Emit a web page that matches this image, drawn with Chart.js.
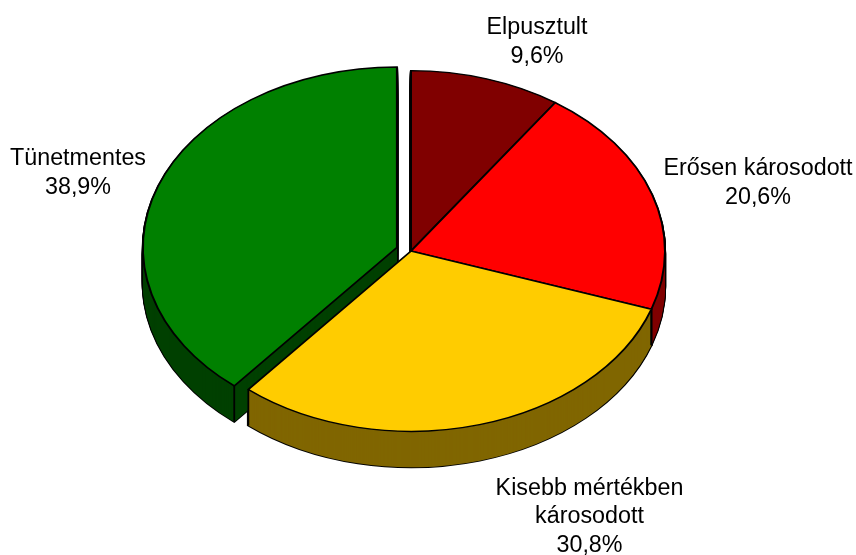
<!DOCTYPE html>
<html>
<head>
<meta charset="utf-8">
<script src="https://cdn.jsdelivr.net/npm/chart.js@4/dist/chart.umd.js"></script>
<style>
  html, body { margin: 0; padding: 0; background: #fff; }
  #wrap { width: 856px; height: 555px; position: relative; }
</style>
</head>
<body>
<div id="wrap"><canvas id="chart" width="856" height="555"></canvas></div>
<script>
const categories = ["Elpusztult", "Erősen károsodott", "Kisebb mértékben károsodott", "Tünetmentes"];
const values = [9.6, 20.6, 30.8, 38.9];
const colors = ["#800000", "#ff0000", "#ffcc00", "#008000"];
const sideColors = ["#400000", "#800000", "#806600", "#004000"];
const explode = [0, 0, 0, 15];

// wrapped label lines, the percent is added from values
const labelLines = [["Elpusztult"], ["Erősen károsodott"], ["Kisebb mértékben", "károsodott"], ["Tünetmentes"]];
const labelAnchors = [[537, 28], [758, 169], [589.5, 488.5], [78, 159]];
const lineHeight = 28.5;

const centerY = 251;
const squash = 0.71;
const depth = 36;

function withOptions(arc, over, fn) {
  const saved = arc.options;
  arc.options = Object.assign({}, saved, over);
  fn();
  arc.options = saved;
}

function shift(arc, i) {
  const mid = (arc.startAngle + arc.endAngle) / 2;
  return [Math.cos(mid) * explode[i], Math.sin(mid) * explode[i]];
}

// Chart.js has no 3D pie, so squash the arcs and stack copies for the wall
const pie3d = {
  id: "pie3d",
  beforeDatasetDraw(chart, args) {
    const ctx = chart.ctx;
    const arcs = args.meta.data;
    const midY = (chart.chartArea.top + chart.chartArea.bottom) / 2;

    const place = (arc, i, dy) => {
      const [sx, sy] = shift(arc, i);
      ctx.save();
      ctx.translate(sx, centerY + dy + sy * squash);
      ctx.scale(1, squash);
      ctx.translate(0, -midY);
    };

    // black silhouette first, then wall colour on top leaves the outline
    for (let pass = 0; pass < 2; pass++) {
      for (let d = depth; d > 0; d--) {
        arcs.forEach((arc, i) => {
          const over = pass === 0
            ? { backgroundColor: "#000", borderColor: "#000", borderWidth: 2.4 }
            : { backgroundColor: sideColors[i], borderWidth: 0 };
          place(arc, i, d);
          withOptions(arc, over, () => arc.draw(ctx));
          ctx.restore();
        });
      }
    }

    // vertical edges of the wall where a slice ends on the front side
    ctx.strokeStyle = "#000";
    ctx.lineWidth = 1.8;
    arcs.forEach((arc, i) => {
      [arc.startAngle, arc.endAngle].forEach(a => {
        if (Math.sin(a) <= 0) return;
        const [sx, sy] = shift(arc, i);
        const x = arc.x + sx + Math.cos(a) * arc.outerRadius;
        const y = centerY + (sy + Math.sin(a) * arc.outerRadius) * squash;
        ctx.beginPath();
        ctx.moveTo(x, y);
        ctx.lineTo(x, y + depth);
        ctx.stroke();
      });
    });

    arcs.forEach((arc, i) => {
      place(arc, i, 0);
      arc.draw(ctx);
      ctx.restore();
    });
    return false;
  },
  afterDraw(chart) {
    const ctx = chart.ctx;
    ctx.save();
    ctx.fillStyle = "#000";
    ctx.font = "23.3px 'Liberation Sans', Arial, sans-serif";
    ctx.textAlign = "center";
    ctx.textBaseline = "middle";
    labelLines.forEach((lines, i) => {
      const pct = values[i].toFixed(1).replace(".", ",") + "%";
      lines.concat(pct).forEach((t, k) => {
        ctx.fillText(t, labelAnchors[i][0], labelAnchors[i][1] + k * lineHeight);
      });
    });
    ctx.restore();
  }
};

new Chart(document.getElementById("chart"), {
  type: "pie",
  data: {
    labels: categories,
    datasets: [{
      data: values,
      backgroundColor: colors,
      borderColor: "#000",
      borderWidth: 2,
      borderJoinStyle: "miter",
      radius: 254,
      clip: false
    }]
  },
  options: {
    responsive: false,
    animation: false,
    events: [],
    layout: { autoPadding: false, padding: { right: 34 } },
    plugins: { legend: { display: false }, tooltip: { enabled: false } }
  },
  plugins: [pie3d]
});
</script>
</body>
</html>
